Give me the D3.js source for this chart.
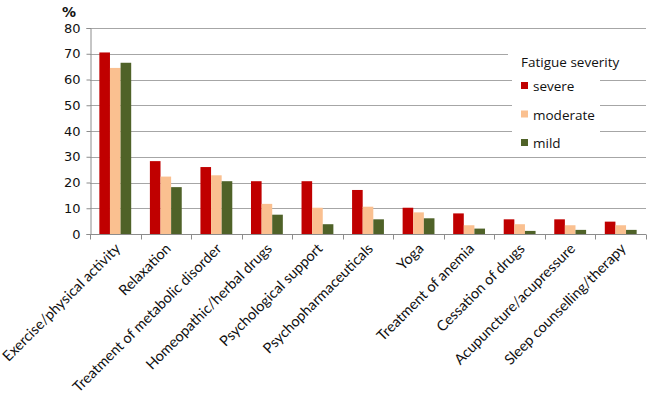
<!DOCTYPE html>
<html><head><meta charset="utf-8">
<script src="https://cdn.jsdelivr.net/npm/d3@7"></script>
<style>body{margin:0;background:#fff}svg{display:block}</style>
</head><body>
<svg id="c" width="649" height="403"></svg>
<script>
const categories = ["Exercise/physical activity","Relaxation","Treatment of metabolic disorder","Homeopathic/herbal drugs","Psychological support","Psychopharmaceuticals","Yoga","Treatment of anemia","Cessation of drugs","Acupuncture/acupressure","Sleep counselling/therapy"];
const seriesNames = ["severe","moderate","mild"];
const severe   = [70.5,28.3,26.0,20.5,20.5,17.1,10.2,8.0,5.7,5.7,4.8];
const moderate = [64.5,22.3,22.8,11.7,10.2,10.6,8.4,3.4,3.8,3.4,3.4];
const mild     = [66.5,18.2,20.5,7.5,3.8,5.7,6.1,2.1,1.2,1.6,1.6];
const yTicks = [0,10,20,30,40,50,60,70,80];
const colors = ["#C00000","#FAC090","#4F6228"];
const seriesValues = [severe, moderate, mild];

const svg = d3.select("#c");
const m = {l:90, r:3, t:28, b:169};
const W = 649, H = 403;
const x = d3.scaleBand().domain(categories).range([m.l, W - m.r]).paddingInner(0.37).paddingOuter(0.185);
const xb = d3.scaleBand().domain(categories).range([m.l, W - m.r]);
const xs = d3.scaleBand().domain(seriesNames).range([0, x.bandwidth()]);
const y = d3.scaleLinear().domain([0,80]).range([H - m.b, m.t]);

// gridlines
svg.append("g").selectAll("line").data(yTicks.filter(d=>d>0)).join("line")
  .attr("x1", m.l).attr("x2", W - m.r)
  .attr("y1", d=>Math.round(y(d))+0.5).attr("y2", d=>Math.round(y(d))+0.5)
  .attr("stroke","#a6a6a6").attr("stroke-width",1);

// bars
const g = svg.append("g");
seriesNames.forEach((s,si)=>{
  g.append("g").selectAll("rect").data(seriesValues[si]).join("rect")
    .attr("x",(d,i)=>x(categories[i]) + xs(s))
    .attr("width", xs.bandwidth())
    .attr("y", d=>y(d))
    .attr("height", d=>y(0)-y(d))
    .attr("fill", colors[si]);
});

// y axis
const ya = d3.axisLeft(y).tickValues(yTicks).tickSize(4).tickPadding(6);
const yg = svg.append("g").attr("transform",`translate(${m.l+0.5},0)`).call(ya);
yg.select(".domain").attr("stroke","#8c8c8c");
yg.selectAll(".tick line").attr("stroke","#8c8c8c");
yg.selectAll("text").attr("font-family","DejaVu Sans, Verdana").attr("font-size",13).attr("fill","#111");

// x axis
const xg = svg.append("g").attr("transform",`translate(0,${Math.round(y(0))+0.5})`);
xg.append("line").attr("x1",m.l).attr("x2",W-m.r).attr("stroke","#8c8c8c");
xg.selectAll("line.t").data(categories.concat(["_end"])).join("line").attr("class","t")
  .attr("x1",(d,i)=>Math.round(m.l + i*xb.step())+0.5).attr("x2",(d,i)=>Math.round(m.l + i*xb.step())+0.5)
  .attr("y1",0).attr("y2",5).attr("stroke","#8c8c8c");
xg.selectAll("text").data(categories).join("text")
  .attr("transform", d=>`translate(${xb(d)+xb.bandwidth()/2+6},${15}) rotate(-45)`)
  .attr("text-anchor","end")
  .attr("font-family","Lato, Open Sans, sans-serif").attr("font-size",14.5).attr("fill","#111")
  .text(d=>d);

// % label
svg.append("text").attr("x",62).attr("y",17).attr("font-family","DejaVu Sans, Verdana")
  .attr("font-size",14).attr("font-weight","bold").attr("fill","#111").text("%");

// legend
const lg = svg.append("g");
lg.append("rect").attr("x",508).attr("y",48).attr("width",141).attr("height",22).attr("fill","#fff");
lg.append("rect").attr("x",512).attr("y",70).attr("width",88).attr("height",80).attr("fill","#fff");
lg.append("text").attr("x",521).attr("y",67).attr("font-family","Open Sans, sans-serif").attr("font-size",13.5).attr("fill","#111").text("Fatigue severity");
seriesNames.forEach((s,i)=>{
  const cy = 86 + i*28.5;
  lg.append("rect").attr("x",521).attr("y",cy-4).attr("width",7).attr("height",7).attr("fill",colors[i]);
  lg.append("text").attr("x",533).attr("y",cy+5).attr("font-family","Open Sans, sans-serif").attr("font-size",13.5).attr("fill","#111").text(s);
});
</script>
</body></html>
